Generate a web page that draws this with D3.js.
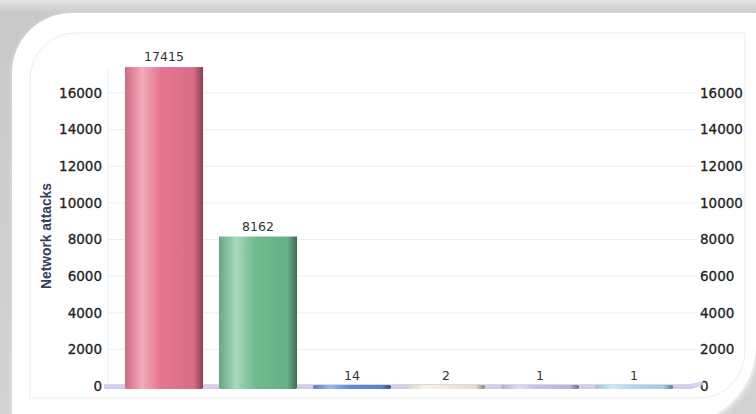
<!DOCTYPE html>
<html>
<head>
<meta charset="utf-8">
<script src="https://cdn.jsdelivr.net/npm/d3@7"></script>
<style>
  body { margin: 0; background: #d4d4d4; }
  svg { display: block; }
</style>
</head>
<body>
<svg width="756" height="414"></svg>
<script>
// chart data
var categories = ["Type 1", "Type 2", "Type 3", "Type 4", "Type 5", "Type 6"];
var attacks = [17415, 8162, 14, 2, 1, 1];
var barColors = ["#e8758f", "#6fbc90", "#5a8fda", "#f4edd2", "#cdbfe8", "#a9dcee"];
var yTicks = [0, 2000, 4000, 6000, 8000, 10000, 12000, 14000, 16000];

var svg = d3.select("svg");
var defs = svg.append("defs");

// grey backdrop with a soft top band
var bg = defs.append("linearGradient").attr("id", "bg")
    .attr("x1", 0).attr("y1", 0).attr("x2", 0).attr("y2", 1);
bg.append("stop").attr("offset", "0").attr("stop-color", "#e6e6e6");
bg.append("stop").attr("offset", "0.03").attr("stop-color", "#c9c9c9");
bg.append("stop").attr("offset", "1").attr("stop-color", "#d2d2d2");
svg.append("rect").attr("width", 756).attr("height", 414).attr("fill", "url(#bg)");

var blur = defs.append("filter").attr("id", "soft")
    .attr("x", "-10%").attr("y", "-10%").attr("width", "120%").attr("height", "120%");
blur.append("feGaussianBlur").attr("stdDeviation", 3);

// card: rounded top-left and bottom-right corners
function card(x0, y0, x1, y1, r1, r2) {
  return "M" + x0 + "," + (y0 + r1) +
    " A" + r1 + "," + r1 + " 0 0 1 " + (x0 + r1) + "," + y0 +
    " L" + x1 + "," + y0 +
    " L" + x1 + "," + (y1 - r2) +
    " A" + r2 + "," + r2 + " 0 0 1 " + (x1 - r2) + "," + y1 +
    " L" + x0 + "," + y1 + " Z";
}
svg.append("path").attr("d", card(14, 15, 758, 427, 60, 82))
    .attr("fill", "#f4f4f4").attr("filter", "url(#soft)");
svg.append("path").attr("d", card(12, 13, 756, 425, 60, 80)).attr("fill", "#fff");
svg.append("path").attr("d", card(30, 33, 745, 398, 46, 46))
    .attr("fill", "none").attr("stroke", "#ececec").attr("stroke-width", 1);

// scales
var x = d3.scaleBand().domain(categories).range([117, 681])
    .paddingInner(0.17).paddingOuter(0.085);
var y = d3.scaleLinear().domain([0, 16000]).range([386, 93]);

// grid
svg.append("g").selectAll("line").data(yTicks).enter().append("line")
    .attr("x1", 108).attr("x2", 697)
    .attr("y1", function(d) { return y(d); })
    .attr("y2", function(d) { return y(d); })
    .attr("stroke", "#efefef");
svg.append("line").attr("x1", 108).attr("x2", 108).attr("y1", 70).attr("y2", 392)
    .attr("stroke", "#ececec");

// tick labels both sides
var tickFont = "DejaVu Sans, Verdana, sans-serif";
function ticks(xpos, anchor) {
  svg.append("g").selectAll("text").data(yTicks).enter().append("text")
      .attr("x", xpos).attr("y", function(d) { return y(d); })
      .attr("dy", "0.36em").attr("text-anchor", anchor)
      .style("font-family", tickFont).style("font-size", "13.5px")
      .style("fill", "#222").style("stroke", "#222").style("stroke-width", "0.3px")
      .text(function(d) { return d; });
}
ticks(102, "end");
ticks(700, "start");

svg.append("text")
    .attr("transform", "translate(51,236) rotate(-90)")
    .attr("text-anchor", "middle")
    .attr("textLength", 106).attr("lengthAdjust", "spacingAndGlyphs")
    .style("font-family", "Liberation Sans, Arial, sans-serif")
    .style("font-size", "15px").style("font-weight", "bold").style("fill", "#34405c")
    .text("Network attacks");

// floor
var floor = defs.append("linearGradient").attr("id", "floor")
    .attr("x1", 0).attr("y1", 0).attr("x2", 0).attr("y2", 1);
floor.append("stop").attr("offset", "0").attr("stop-color", "#dcd6f2");
floor.append("stop").attr("offset", "1").attr("stop-color", "#c8c0e6");
svg.append("path")
    .attr("d", "M104,389 L104,384 L690,384 L703,381 L703,385 L692,389 Z")
    .attr("fill", "url(#floor)").attr("opacity", 0.85);

// cylinder shading per colour
barColors.forEach(function(c, i) {
  var g = defs.append("linearGradient").attr("id", "cyl" + i);
  var base = d3.color(c);
  g.append("stop").attr("offset", "0").attr("stop-color", base.darker(0.3));
  g.append("stop").attr("offset", "0.22").attr("stop-color", d3.interpolateRgb(c, "#fff")(0.4));
  g.append("stop").attr("offset", "0.45").attr("stop-color", c);
  g.append("stop").attr("offset", "0.88").attr("stop-color", base.darker(0.2));
  g.append("stop").attr("offset", "1").attr("stop-color", base.darker(1.6));
});

var bars = svg.append("g").selectAll("g").data(attacks).enter().append("g");

// cylinder bases on the floor
bars.append("rect")
    .attr("x", function(d, i) { return x(categories[i]); })
    .attr("y", y(0) - 1)
    .attr("width", x.bandwidth())
    .attr("height", 4)
    .attr("rx", 2)
    .attr("fill", function(d, i) { return "url(#cyl" + i + ")"; });

bars.append("rect")
    .attr("x", function(d, i) { return x(categories[i]); })
    .attr("y", function(d) { return y(d); })
    .attr("width", x.bandwidth())
    .attr("height", function(d) { return y(0) - y(d) + 2; })
    .attr("fill", function(d, i) { return "url(#cyl" + i + ")"; });

bars.append("text")
    .attr("x", function(d, i) { return x(categories[i]) + x.bandwidth() / 2; })
    .attr("y", function(d) { return y(d) - 6; })
    .attr("text-anchor", "middle")
    .style("font-family", tickFont).style("font-size", "12.5px").style("fill", "#333")
    .text(function(d) { return d; });
</script>
</body>
</html>
